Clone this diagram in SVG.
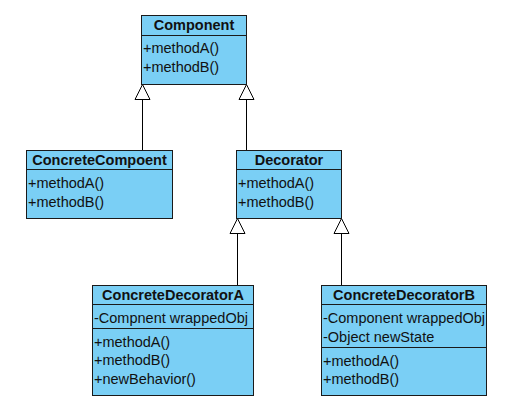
<svg xmlns="http://www.w3.org/2000/svg" width="512" height="414" viewBox="0 0 512 414">
<style>
.box{fill:#7acff5;stroke:#1a1a1a;stroke-width:1}
.sep{stroke:#1a1a1a;stroke-width:1}
.t{font-family:"Liberation Sans",Arial,sans-serif;font-size:14.5px;fill:#111}
.h{font-weight:bold;text-anchor:middle}
.ln{stroke:#000;stroke-width:1;fill:none}
.tri{fill:#fff;stroke:#000;stroke-width:1}
</style>
<rect width="512" height="414" fill="#fff"/>
<g id="connectors">
<line class="ln" x1="142.5" y1="99" x2="142.5" y2="150"/>
<polygon class="tri" points="142.5,84.5 135,99.5 150,99.5"/>
<line class="ln" x1="246.5" y1="99" x2="246.5" y2="150"/>
<polygon class="tri" points="246.5,84.5 239,99.5 254,99.5"/>
<line class="ln" x1="237.5" y1="233" x2="237.5" y2="285"/>
<polygon class="tri" points="237.5,218.5 230,233.5 245,233.5"/>
<line class="ln" x1="341.5" y1="233" x2="341.5" y2="285"/>
<polygon class="tri" points="341.5,218.5 334,233.5 349,233.5"/>
</g>
<g id="Component">
<rect class="box" x="141.5" y="15.5" width="105" height="69"/>
<line class="sep" x1="141.5" y1="35.5" x2="246.5" y2="35.5"/>
<text class="t h" x="194" y="30">Component</text>
<text class="t" x="143" y="53">+methodA()</text>
<text class="t" x="143" y="72">+methodB()</text>
</g>
<g id="ConcreteCompoent">
<rect class="box" x="26.5" y="150.5" width="146" height="68"/>
<line class="sep" x1="26.5" y1="169.5" x2="172.5" y2="169.5"/>
<text class="t h" x="99.5" y="164.5">ConcreteCompoent</text>
<text class="t" x="28" y="188">+methodA()</text>
<text class="t" x="28" y="207">+methodB()</text>
</g>
<g id="Decorator">
<rect class="box" x="236.5" y="150.5" width="105" height="68"/>
<line class="sep" x1="236.5" y1="169.5" x2="341.5" y2="169.5"/>
<text class="t h" x="289" y="164.5">Decorator</text>
<text class="t" x="238" y="188">+methodA()</text>
<text class="t" x="238" y="207">+methodB()</text>
</g>
<g id="ConcreteDecoratorA">
<rect class="box" x="92.5" y="285.5" width="161" height="110"/>
<line class="sep" x1="92.5" y1="304.5" x2="253.5" y2="304.5"/>
<line class="sep" x1="92.5" y1="328.5" x2="253.5" y2="328.5"/>
<text class="t h" x="173" y="299.5">ConcreteDecoratorA</text>
<text class="t" x="94" y="323">-Compnent wrappedObj</text>
<text class="t" x="94" y="346.5">+methodA()</text>
<text class="t" x="94" y="365">+methodB()</text>
<text class="t" x="94" y="383.5">+newBehavior()</text>
</g>
<g id="ConcreteDecoratorB">
<rect class="box" x="321.5" y="285.5" width="165" height="110"/>
<line class="sep" x1="321.5" y1="304.5" x2="486.5" y2="304.5"/>
<line class="sep" x1="321.5" y1="347.5" x2="486.5" y2="347.5"/>
<text class="t h" x="404" y="299.5">ConcreteDecoratorB</text>
<text class="t" x="323" y="323">-Component wrappedObj</text>
<text class="t" x="323" y="341.5">-Object newState</text>
<text class="t" x="323" y="365.5">+methodA()</text>
<text class="t" x="323" y="384">+methodB()</text>
</g>
</svg>
